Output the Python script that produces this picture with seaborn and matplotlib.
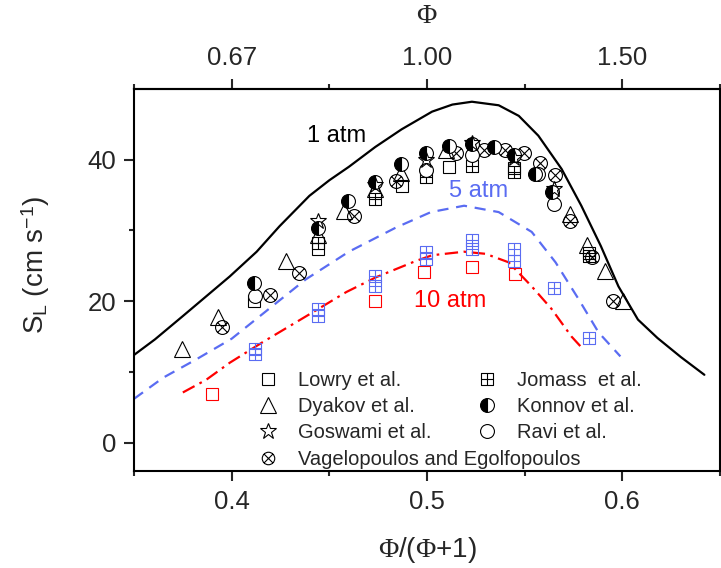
import numpy as np
import matplotlib
matplotlib.use("Agg")
import matplotlib.pyplot as plt
from matplotlib.path import Path
from matplotlib.lines import Line2D
import seaborn as sns

# ---------------- data ----------------
# model curves (x = phi/(phi+1), y = S_L in cm/s)
x_1atm = [0.35, 0.3607, 0.375, 0.399, 0.4128, 0.4245, 0.4398, 0.45, 0.46, 0.4735, 0.487, 0.5026,
          0.513, 0.523, 0.5367, 0.547, 0.557, 0.5689, 0.579, 0.589, 0.598, 0.608, 0.618, 0.63, 0.642]
y_1atm = [12.4, 14.6, 17.9, 23.5, 27.0, 30.6, 34.9, 37.1, 39.0, 41.8, 44.3, 46.8,
          47.8, 48.2, 47.7, 46.2, 43.4, 38.7, 33.5, 27.8, 22.1, 17.4, 14.8, 12.1, 9.6]

x_5atm = [0.35, 0.365, 0.382, 0.4, 0.419, 0.438, 0.46, 0.484, 0.502, 0.519,
          0.5367, 0.5536, 0.5658, 0.5776, 0.5878, 0.599]
y_5atm = [6.2, 9.2, 11.8, 14.7, 18.9, 23.1, 27.0, 30.4, 32.6, 33.5,
          32.6, 29.8, 25.5, 20.3, 15.6, 12.2]

x_10atm = [0.375, 0.387, 0.399, 0.4158, 0.4413, 0.4587, 0.474, 0.4944, 0.5026, 0.519,
           0.530, 0.5418, 0.5536, 0.5638, 0.574, 0.580]
y_10atm = [7.1, 8.9, 11.3, 14.2, 18.4, 21.3, 23.4, 25.7, 26.5, 27.0,
           26.7, 25.5, 22.1, 18.9, 15.0, 13.2]

# experimental data, 1 atm
lowry_x = [0.4115, 0.4444, 0.4874, 0.5112, 0.5444, 0.5827]
lowry_y = [20.0, 27.4, 36.3, 39.0, 38.8, 26.8]

dyakov_x = [0.3748, 0.393, 0.4279, 0.4444, 0.4577, 0.4733, 0.4866, 0.5096, 0.5733, 0.5818, 0.5912, 0.6005]
dyakov_y = [13.2, 17.7, 25.7, 29.3, 32.8, 35.9, 38.1, 41.4, 32.3, 27.9, 24.3, 20.0]

goswami_x = [0.4444, 0.4733, 0.4993, 0.5231, 0.5444, 0.5648]
goswami_y = [31.4, 36.4, 40.0, 42.3, 40.3, 35.8]

vagel_x = [0.3952, 0.4194, 0.4343, 0.4624, 0.484, 0.5146, 0.529, 0.5401, 0.5495, 0.558,
           0.5657, 0.5733, 0.5843, 0.5954]
vagel_y = [16.4, 20.9, 24.0, 32.1, 37.0, 41.0, 41.4, 41.4, 40.9, 39.6,
           37.8, 31.4, 26.2, 20.0]

jomaas_x = [0.4444, 0.4733, 0.4993, 0.5231, 0.5444, 0.5827]
jomaas_y = [28.2, 34.4, 37.6, 39.1, 38.2, 26.4]

konnov_x = [0.4112, 0.444, 0.4594, 0.4733, 0.4866, 0.4993, 0.5112, 0.5231, 0.5342, 0.5444, 0.5554, 0.564]
konnov_y = [22.6, 30.3, 34.1, 36.9, 39.4, 41.0, 42.0, 42.2, 41.8, 40.6, 38.0, 35.5]

ravi_x = [0.4117, 0.4993, 0.5231, 0.557, 0.5648]
ravi_y = [20.8, 38.5, 40.6, 38.0, 33.8]

# 5 atm (Jomaas) and 10 atm data
j5_x = [0.4117, 0.4117, 0.444, 0.444, 0.4733, 0.4733, 0.4993, 0.4993, 0.5231, 0.5231,
        0.5444, 0.5444, 0.5648, 0.5827]
j5_y = [13.3, 12.5, 18.9, 17.9, 23.6, 22.2, 27.0, 26.0, 28.6, 27.4,
        27.4, 25.7, 21.9, 14.8]

p10_x = [0.39, 0.4733, 0.4985, 0.5231, 0.5449]
p10_y = [6.9, 20.0, 24.1, 24.8, 23.8]

top_ticks = [0.4, 0.5, 0.6]
top_labels = ["0.67", "1.00", "1.50"]

# ---------------- style ----------------
sns.set_style("ticks")
plt.rcParams["font.family"] = ["Liberation Sans", "DejaVu Sans"]
plt.rcParams["mathtext.fontset"] = "custom"
plt.rcParams["mathtext.rm"] = "Liberation Serif"
plt.rcParams["mathtext.it"] = "Liberation Serif:italic"
plt.rcParams["mathtext.sf"] = "Liberation Sans"
plt.rcParams["axes.linewidth"] = 1.5

BLUE = "#5a6cf2"
RED = "#ff0000"

# custom markers
sq = [(-0.5, -0.5), (0.5, -0.5), (0.5, 0.5), (-0.5, 0.5), (-0.5, -0.5)]
box_plus = Path(sq + [(0, -0.5), (0, 0.5), (-0.5, 0), (0.5, 0)],
                [Path.MOVETO, Path.LINETO, Path.LINETO, Path.LINETO, Path.CLOSEPOLY,
                 Path.MOVETO, Path.LINETO, Path.MOVETO, Path.LINETO])
circ = Path.unit_circle()
d = 0.7071
xlines = Path([(-d, -d), (d, d), (-d, d), (d, -d)],
              [Path.MOVETO, Path.LINETO, Path.MOVETO, Path.LINETO])
circ_x = Path.make_compound_path(circ, xlines)

fig = plt.figure(figsize=(7.21, 5.68), dpi=100)
ax = fig.add_axes([134 / 721, 97 / 568, 586 / 721, 382 / 568])

common = dict(ax=ax, estimator=None, sort=False, legend=False)

sns.lineplot(x=x_1atm, y=y_1atm, color="black", linewidth=1.6, **common)
sns.lineplot(x=x_5atm, y=y_5atm, color=BLUE, linewidth=1.6, **common)
ax.lines[-1].set_dashes([5, 3.5])
sns.lineplot(x=x_10atm, y=y_10atm, color=RED, linewidth=1.6, **common)
ax.lines[-1].set_dashes([6, 2.5, 1.2, 2.5])

mk = dict(linestyle="none", markeredgewidth=0.8)

def pts(x, y, marker, ms, color="black", face="none", **kw):
    sns.lineplot(x=x, y=y, marker=marker, markersize=ms, color=color,
                 markeredgecolor=color, markerfacecolor=face, **mk, **kw, **common)

pts(p10_x, p10_y, "s", 8.5, color=RED)
pts(j5_x, j5_y, box_plus, 8.5, color=BLUE)
pts(lowry_x, lowry_y, "s", 8.5)
pts(jomaas_x, jomaas_y, box_plus, 8.5)
pts(dyakov_x, dyakov_y, "^", 11.5)
pts(vagel_x, vagel_y, circ_x, 10)
pts(ravi_x, ravi_y, "o", 10, face="white")
sns.lineplot(x=konnov_x, y=konnov_y, marker="o", markersize=10, color="black",
             markeredgecolor="black", markerfacecolor="black",
             markerfacecoloralt="white", fillstyle="left", **mk, **common)
pts(goswami_x, goswami_y, "*", 12)

# annotations
ax.text(0.4536, 43.3, "1 atm", ha="center", va="center", fontsize=17, color="black")
ax.text(0.5265, 35.6, "5 atm", ha="center", va="center", fontsize=17, color=BLUE)
ax.text(0.512, 20.0, "10 atm", ha="center", va="center", fontsize=17, color=RED)

# axes
ax.set_xlim(0.35, 0.65)
ax.set_ylim(-4, 50)
ax.set_xticks([0.4, 0.5, 0.6])
ax.set_xticks([0.35, 0.45, 0.55, 0.65], minor=True)
ax.set_yticks([0, 20, 40])
ax.set_yticks([10, 30], minor=True)
ax.tick_params(which="major", length=7, width=1.5, direction="out", labelsize=18.5, pad=7,
               top=False, right=False)
ax.tick_params(which="minor", length=3.5, width=1.5, direction="out", top=False, right=False)
ax.tick_params(axis="y", pad=6)
for s in ax.spines.values():
    s.set_visible(True)
    s.set_linewidth(1.5)
    s.set_color("black")

ax.set_xlabel(r"$\Phi$/($\Phi$+1)", fontsize=20, labelpad=15)
ax.set_ylabel(r"S$_{\mathsf{L}}$ (cm s$^{\mathsf{-1}}$)", fontsize=20)
ax.yaxis.set_label_coords(-0.14, 0.54)

sec = ax.secondary_xaxis("top")
sec.set_xticks(top_ticks, labels=top_labels)
sec.set_xticks([0.35, 0.45, 0.55, 0.65], minor=True)
sec.tick_params(which="major", length=7, width=1.5, direction="out", labelsize=18.5, pad=7)
sec.tick_params(which="minor", length=3.5, width=1.5, direction="out")
sec.spines["top"].set_linewidth(1.5)
sec.set_xlabel(r"$\Phi$", fontsize=20, labelpad=16)

# legends
def h(marker, ms, face="none", **kw):
    return Line2D([], [], linestyle="none", marker=marker, markersize=ms, color="black",
                  markeredgecolor="black", markerfacecolor=face, markeredgewidth=0.8, **kw)

h1 = [h("s", 8.5), h("^", 11.5), h("*", 12), h(circ_x, 9)]
l1 = ["Lowry et al.", "Dyakov et al.", "Goswami et al.", "Vagelopoulos and Egolfopoulos"]
h2 = [h(box_plus, 8.5), h("o", 10, face="black", markerfacecoloralt="white", fillstyle="left"),
      h("o", 10, face="white")]
l2 = ["Jomass  et al.", "Konnov et al.", "Ravi et al."]

leg_kw = dict(loc="upper left", frameon=False, borderpad=0, borderaxespad=0,
              handlelength=1.0, handletextpad=1.0, labelspacing=0.36, fontsize=14.5)
leg1 = ax.legend(h1, l1, bbox_to_anchor=(0.2116, 0.262), **leg_kw)
ax.add_artist(leg1)
ax.legend(h2, l2, bbox_to_anchor=(0.5853, 0.262), **leg_kw)

fig.savefig("out.png", dpi=100)
